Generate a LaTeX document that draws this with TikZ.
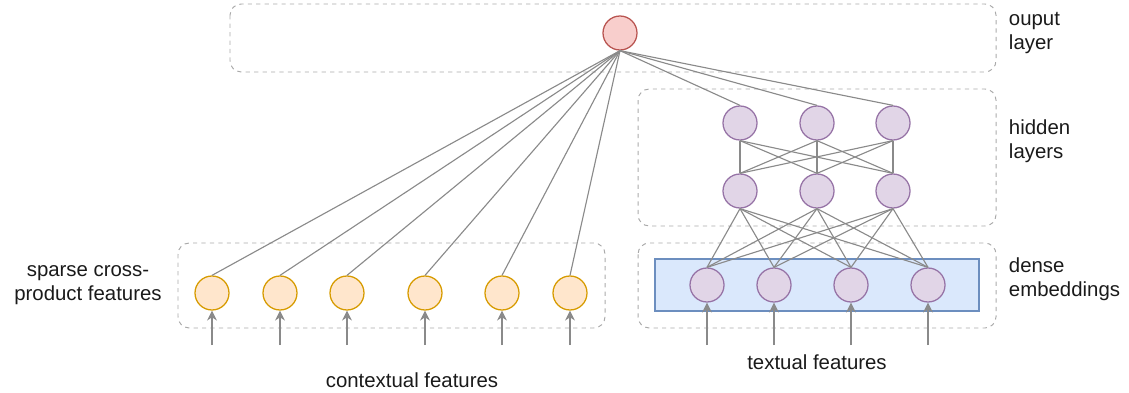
\documentclass[tikz,border=0pt]{standalone}
\usepackage{fontspec}
\setmainfont{Liberation Sans}
\usetikzlibrary{arrows.meta}

\definecolor{outfill}{HTML}{F8CECC}
\definecolor{outline}{HTML}{B85450}
\definecolor{ctxfill}{HTML}{FFE6CC}
\definecolor{ctxline}{HTML}{D79B00}
\definecolor{hidfill}{HTML}{E1D5E7}
\definecolor{hidline}{HTML}{9673A6}
\definecolor{embfill}{HTML}{DAE8FC}
\definecolor{embline}{HTML}{6C8EBF}
\definecolor{wire}{HTML}{8A8A8A}
\definecolor{frame}{HTML}{AAAAAA}
\definecolor{ink}{HTML}{1A1A1A}

\begin{document}
\begin{tikzpicture}[x=0.025cm,y=-0.025cm,
  unit/.style={circle,draw,line width=0.9pt,minimum size=0.85cm,inner sep=0pt},
  outunit/.style={unit,fill=outfill,draw=outline},
  ctxunit/.style={unit,fill=ctxfill,draw=ctxline},
  hidunit/.style={unit,fill=hidfill,draw=hidline},
  layerbox/.style={draw=frame,dashed,dash pattern=on 3pt off 3pt,line width=0.7pt,rounded corners=8pt},
  wireline/.style={draw=wire,line width=0.8pt},
  feed/.style={draw=wire,line width=1pt,-{Stealth[length=7pt,width=7pt]}},
  label/.style={text=ink,font=\fontsize{14.5}{17}\selectfont},
]
\useasboundingbox (0,0) rectangle (1129,393);

% dashed layer frames and the embedding strip
\draw[layerbox] (230,4) rectangle (996,72);
\draw[layerbox] (638,89) rectangle (996,226);
\draw[layerbox] (178,243) rectangle (605,328);
\draw[layerbox] (638,243) rectangle (996,328);
\draw[fill=embfill,draw=embline,line width=0.8pt] (655,259) rectangle (979,311);

% units
\node[outunit] (out) at (620,33) {};
\foreach \x [count=\i] in {212,280,347,425,502,570}
  \node[ctxunit] (c\i) at (\x,293) {};
\foreach \x [count=\i] in {740,817,893} {
  \node[hidunit] (h\i) at (\x,123) {};
  \node[hidunit] (g\i) at (\x,191) {};
}
\foreach \x [count=\i] in {707,774,851,928}
  \node[hidunit] (e\i) at (\x,285) {};

% connections
\foreach \i in {1,...,6}
  \draw[wireline] (out.south) -- (c\i.north);
\foreach \i in {1,2,3} {
  \draw[wireline] (out.south) -- (h\i.north);
  \foreach \j in {1,2,3}
    \draw[wireline] (h\i.south) -- (g\j.north);
  \foreach \j in {1,...,4}
    \draw[wireline] (g\i.south) -- (e\j.north);
}

% input arrows
\foreach \x [count=\i] in {212,280,347,425,502,570} {
  \coordinate (cin\i) at (\x,345);
  \draw[feed] (cin\i) -- (c\i.south);
}
\foreach \x [count=\i] in {707,774,851,928} {
  \coordinate (ein\i) at (\x,345);
  \draw[feed] (ein\i) -- (e\i.south);
}

% labels
\node[label,align=center] (sparse) at (88,285) {sparse cross-\\product features};
\node[label] (ctxtext) at (412,380) {contextual features};
\node[label] (txttext) at (817,362) {textual features};
\node[label,align=left,anchor=west] (outtext) at (1004,33) {ouput\\layer};
\node[label,align=left,anchor=west] (hidtext) at (1004,141) {hidden\\layers};
\node[label,align=left,anchor=west] (embtext) at (1004,279) {dense\\embeddings};
\end{tikzpicture}
\end{document}
